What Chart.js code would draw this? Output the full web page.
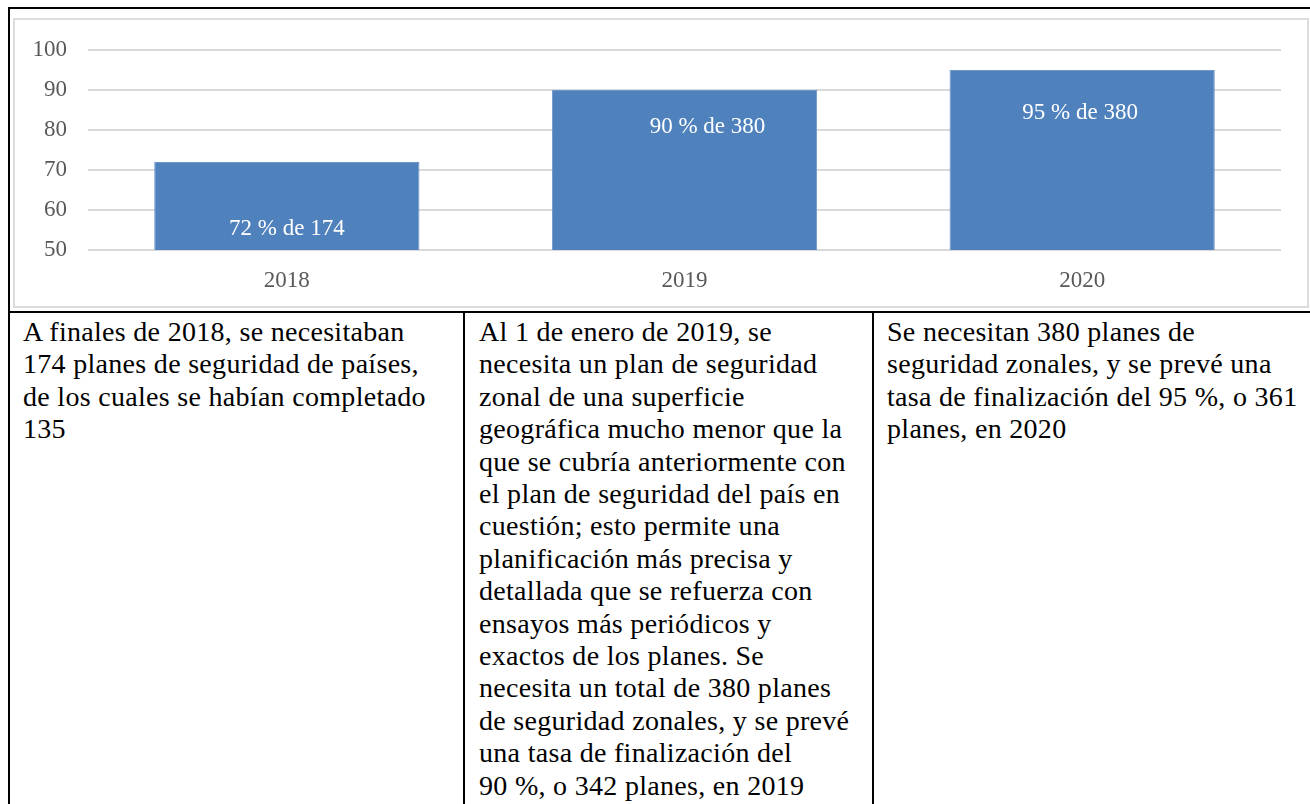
<!DOCTYPE html>
<html><head><meta charset="utf-8">
<script src="https://cdn.jsdelivr.net/npm/chart.js@4"></script>
<style>
html,body{margin:0;padding:0;background:#fff;width:1310px;height:804px;overflow:hidden;}
#outer{position:absolute;left:8px;top:7px;width:1400px;height:1000px;border-left:2px solid #000;border-top:2px solid #000;}
#frame{position:absolute;left:13px;top:18px;width:1296px;height:290px;border:2px solid #dcdcdc;box-sizing:border-box;}
#cwrap{position:absolute;left:15px;top:20px;width:1291px;height:286px;}
.cell{position:absolute;top:311px;height:600px;border:2px solid #000;box-sizing:border-box;font-family:'Liberation Serif','Times New Roman',serif;font-size:28px;line-height:32.4px;letter-spacing:0.3px;color:#000;background:#fff;}
.txt{position:absolute;top:3px;white-space:nowrap;}
</style>
</head>
<body>
<div id="outer"></div>
<div id="frame"></div>
<div id="cwrap"><canvas id="c"></canvas></div>
<div class="cell" style="left:8px;width:457px;"><div class="txt" style="left:13px;">A finales de 2018, se necesitaban<br>174 planes de seguridad de países,<br>de los cuales se habían completado<br>135</div></div>
<div class="cell" style="left:463px;width:411px;"><div class="txt" style="left:14px;">Al 1 de enero de 2019, se<br>necesita un plan de seguridad<br>zonal de una superficie<br>geográfica mucho menor que la<br>que se cubría anteriormente con<br>el plan de seguridad del país en<br>cuestión; esto permite una<br>planificación más precisa y<br>detallada que se refuerza con<br>ensayos más periódicos y<br>exactos de los planes. Se<br>necesita un total de 380 planes<br>de seguridad zonales, y se prevé<br>una tasa de finalización del<br>90 %, o 342 planes, en 2019</div></div>
<div class="cell" style="left:872px;width:520px;"><div class="txt" style="left:13px;">Se necesitan 380 planes de<br>seguridad zonales, y se prevé una<br>tasa de finalización del 95 %, o 361<br>planes, en 2020</div></div>
<script>
const categories = ['2018', '2019', '2020'];
const values = [72, 90, 95];
const barLabels = ['72 % de 174', '90 % de 380', '95 % de 380'];
const yMin = 50;
const yMax = 100;
const yStep = 10;

const FONT = "'Liberation Serif','Times New Roman',serif";

const barTextPlugin = {
  id: 'barText',
  afterDatasetsDraw(chart, args, opts) {
    const ctx = chart.ctx;
    const meta = chart.getDatasetMeta(0);
    const ys = chart.scales.y;
    ctx.save();
    ctx.fillStyle = '#ffffff';
    ctx.font = '23px ' + FONT;
    ctx.textAlign = 'center';
    ctx.textBaseline = 'middle';
    meta.data.forEach((bar, i) => {
      const o = opts.place[i];
      const ref = o.from === 'base' ? ys.getPixelForValue(ys.min) : bar.y;
      ctx.fillText(barLabels[i], bar.x + o.dx, ref + o.dy);
    });
    ctx.restore();
  }
};

new Chart(document.getElementById('c'), {
  type: 'bar',
  data: {
    labels: categories,
    datasets: [{
      data: values,
      backgroundColor: '#4f81bd',
      borderColor: '#7095c8',
      borderWidth: 1,
      borderSkipped: false,
      categoryPercentage: 1,
      barPercentage: 0.667
    }]
  },
  options: {
    responsive: true,
    maintainAspectRatio: false,
    animation: false,
    layout: { padding: { top: 30, right: 25, left: 0, bottom: 0 } },
    plugins: {
      legend: { display: false },
      tooltip: { enabled: false },
      barText: {
        place: [
          { from: 'base', dx: 0, dy: -21 },
          { from: 'top', dx: 23, dy: 37 },
          { from: 'top', dx: -2, dy: 43 }
        ]
      }
    },
    scales: {
      x: {
        grid: { display: false },
        border: { display: false },
        ticks: { color: '#595959', font: { family: FONT, size: 23 }, padding: 9 },
        afterFit(s) { s.height = 56; }
      },
      y: {
        min: yMin,
        max: yMax,
        ticks: { stepSize: yStep, color: '#595959', font: { family: FONT, size: 23 }, padding: 0 },
        grid: { color: '#d9d9d9', lineWidth: 2, drawTicks: true, tickLength: 21, tickColor: 'rgba(0,0,0,0)' },
        border: { display: false },
        afterFit(s) { s.width = 73; }
      }
    }
  },
  plugins: [barTextPlugin]
});
</script>
</body></html>
